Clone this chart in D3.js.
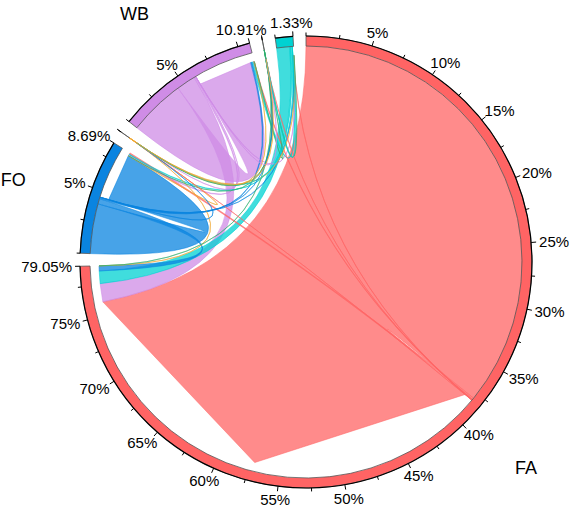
<!DOCTYPE html>
<html>
<head>
<meta charset="utf-8">
<script src="https://cdn.jsdelivr.net/npm/d3@7"></script>
<style>
  body { margin: 0; background: #fff; }
  text { font-family: "Liberation Sans", Arial, sans-serif; fill: #000; }
</style>
</head>
<body>
<svg id="chart" width="571" height="517"></svg>
<script>
// sectors, clockwise from 12 o'clock
const sectors = ["FA", "FO", "T1", "WB", "T2", "CY"];
const sectorNames = ["FA", "FO", "", "WB", "", ""];
const sectorColors = ["#FF6464", "#0A84E0", "#F0A830", "#CF8CE6", "#2EAF6E", "#00D2D2"];

// links in % of total (source -> target), list order = order of ends in a sector
const linkFrom = ["FA", "FO", "WB", "WB", "CY", "FO", "T1", "T2",
  "T1", "T2", "WB", "CY", "FA",
  "FO", "CY", "FA", "T1", "T2",
  "FA", "FO", "WB", "T1", "T2",
  "FA", "FO", "WB", "CY", "T2",
  "FA", "FO", "WB", "CY", "T1"];
const linkTo = ["FA", "FO", "WB", "FA", "FA", "FA", "FA", "FA",
  "FO", "FO", "FO", "FO", "FO",
  "WB", "WB", "WB", "WB", "WB",
  "CY", "CY", "CY", "CY", "CY",
  "T1", "T1", "T1", "T1", "T1",
  "T2", "T2", "T2", "T2", "T2"];
const linkValue = [37.95, 3.935, 4.475, 1.5, 1.03, 0.416, 0.001, 0.001,
  0.001, 0.001, 0.1, 0.05, 0.12,
  0.1, 0.15, 0.06, 0.001, 0.001,
  0.02, 0.03, 0.046, 0.001, 0.001,
  0.001, 0.001, 0.001, 0.001, 0.001,
  0.001, 0.001, 0.001, 0.001, 0.001];

const width = 571, height = 517;
const cx = 306, cy = 262;
const Ro = 226, Ri = 216, Rs = 216, Rt = 207;
const gapDeg = 3.3;
const rad = Math.PI / 180;

const svg = d3.select("#chart");
const g = svg.append("g").attr("transform", `translate(${cx},${cy})`);

// sector sizes = out + in
const size = sectors.map(s =>
  d3.sum(linkValue.filter((v, i) => linkFrom[i] === s || linkTo[i] === s)) +
  d3.sum(linkValue.filter((v, i) => linkFrom[i] === s && linkTo[i] === s)));

const total = d3.sum(size);
const pct = d3.scaleLinear().domain([0, total]).range([0, (360 - gapDeg * sectors.length) * rad]);

const start = [];
let acc = 0;
sectors.forEach((s, i) => {
  start.push(pct(acc) + i * gapDeg * rad);
  acc += size[i];
});
const angleOf = (i, p) => start[i] + pct(p);

// place link ends: outgoing first, then incoming
const links = linkValue.map((v, i) => ({ from: sectors.indexOf(linkFrom[i]), to: sectors.indexOf(linkTo[i]), value: v }));
sectors.forEach((s, si) => {
  let cur = 0;
  links.forEach(l => {
    if (l.from === si) { l.s0 = angleOf(si, cur); cur += l.value; l.s1 = angleOf(si, cur); }
  });
  links.forEach(l => {
    if (l.to === si) { l.t0 = angleOf(si, cur); cur += l.value; l.t1 = angleOf(si, cur); }
  });
});

const px = (a, r) => [r * Math.sin(a), -r * Math.cos(a)];

function linkPath(l) {
  const p = d3.path();
  const a = px(l.s0, Rs);
  p.moveTo(a[0], a[1]);
  p.arc(0, 0, Rs, l.s0 - Math.PI / 2, l.s1 - Math.PI / 2);
  const b = px(l.t0, Rt);
  p.quadraticCurveTo(0, 0, b[0], b[1]);
  // target end drawn as a coarse polyline
  const n = Math.max(1, Math.ceil((l.t1 - l.t0) / (70 * rad)));
  for (let k = 1; k <= n; k++) {
    const c = px(l.t0 + (l.t1 - l.t0) * k / n, Rt);
    p.lineTo(c[0], c[1]);
  }
  p.quadraticCurveTo(0, 0, a[0], a[1]);
  p.closePath();
  return p.toString();
}

// links, big ones underneath
g.append("g").selectAll("path")
  .data(links.slice().sort((a, b) => b.value - a.value))
  .join("path")
  .attr("d", linkPath)
  .attr("fill", d => sectorColors[d.from])
  .attr("fill-opacity", 0.75)
  .attr("stroke", d => sectorColors[d.from])
  .attr("stroke-opacity", 0.9)
  .attr("stroke-width", 0.6);

// sector ring
const ring = d3.arc().innerRadius(Ri).outerRadius(Ro);
g.append("g").selectAll("path")
  .data(sectors.map((s, i) => ({ i, startAngle: start[i], endAngle: angleOf(i, size[i]) })))
  .join("path")
  .attr("d", ring)
  .attr("fill", d => sectorColors[d.i])
  .attr("stroke", "#555")
  .attr("stroke-width", 0.8);

// axes
const axisArc = d3.arc().innerRadius(Ro).outerRadius(Ro);
const axes = g.append("g");
sectors.forEach((s, i) => {
  const a0 = start[i], a1 = angleOf(i, size[i]);
  axes.append("path")
    .attr("d", axisArc({ startAngle: a0, endAngle: a1 }))
    .attr("fill", "none").attr("stroke", "#000").attr("stroke-width", 1.2);

  const ticks = size[i] >= 0.1 ? d3.range(0, size[i], 2.5) : [0];
  ticks.push(size[i]);
  ticks.forEach((t, k) => {
    const a = angleOf(i, t);
    const major = k === ticks.length - 1 || (t > 0 && t % 5 === 0);
    const len = major ? 5 : 3.5;
    const p1 = px(a, Ro), p2 = px(a, Ro + len);
    axes.append("line")
      .attr("x1", p1[0]).attr("y1", p1[1]).attr("x2", p2[0]).attr("y2", p2[1])
      .attr("stroke", "#000").attr("stroke-width", 1);

    let label = null;
    if (k === ticks.length - 1) {
      if (size[i] >= 0.1) label = size[i].toFixed(2) + "%";
    } else if (major && size[i] - t >= 2) {
      label = t + "%";
    }
    if (label) {
      const txt = axes.append("text").attr("font-size", 15).attr("text-anchor", "middle")
        .attr("dy", "0.35em").text(label);
      const w = txt.node().getComputedTextLength(), h = 12;
      const c = px(a, Ro + len + 3);
      txt.attr("x", c[0] + Math.sin(a) * w / 2).attr("y", c[1] - Math.cos(a) * h / 2);
    }
  });
});

// sector names
sectors.forEach((s, i) => {
  if (!sectorNames[i]) return;
  const a = angleOf(i, size[i] / 2) - rad;
  const txt = g.append("text").attr("font-size", 18).attr("text-anchor", "middle")
    .attr("dy", "0.35em").text(sectorNames[i]);
  const w = txt.node().getComputedTextLength(), h = 14;
  const c = px(a, 292);
  txt.attr("x", c[0] + Math.sin(a) * w / 2).attr("y", c[1] - Math.cos(a) * h / 2);
});
</script>
</body>
</html>
